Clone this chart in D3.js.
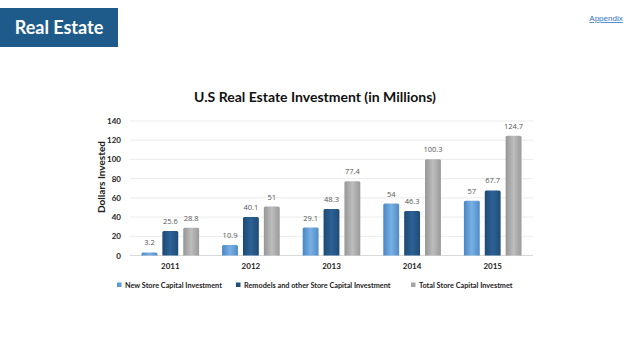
<!DOCTYPE html>
<html><head><meta charset="utf-8">
<script src="https://cdn.jsdelivr.net/npm/d3@7"></script>
<style>body{margin:0;background:#fff;}svg{display:block;}</style>
</head><body>
<svg id="c" width="638" height="359"></svg>
<script>
const years = ["2011","2012","2013","2014","2015"];
const seriesNames = ["New Store Capital Investment","Remodels and other Store Capital Investment","Total Store Capital Investmet"];
const newStore = [3.2,10.9,29.1,54,57];
const remodels = [25.6,40.1,48.3,46.3,67.7];
const total = [28.8,51,77.4,100.3,124.7];
const yTicks = [0,20,40,60,80,100,120,140];
const labels = [["3.2","10.9","29.1","54","57"],["25.6","40.1","48.3","46.3","67.7"],["28.8","51","77.4","100.3","124.7"]];

(function(){
const svg = d3.select("#c");
const font = "Lato, 'Open Sans', sans-serif";
const defs = svg.append("defs");
const grads = [["#4a86c6","#79b0e3","#4f8bca"],["#1d4a74","#2d6196","#1f4c77"],["#969696","#bdbdbd","#9a9a9a"]];
grads.forEach((g,i)=>{
  const lg = defs.append("linearGradient").attr("id","g"+i).attr("x1","0").attr("x2","1").attr("y1","0").attr("y2","0");
  lg.append("stop").attr("offset","0%").attr("stop-color",g[0]);
  lg.append("stop").attr("offset","50%").attr("stop-color",g[1]);
  lg.append("stop").attr("offset","100%").attr("stop-color",g[2]);
});
const solid = ["#5b9bd5","#1f4e79","#a5a5a5"];

// header
svg.append("rect").attr("x",0).attr("y",8).attr("width",118).attr("height",39).attr("fill","#1f5b8a");
svg.append("text").attr("x",59).attr("y",34).attr("text-anchor","middle").attr("fill","#fff")
  .attr("font-family",font).attr("font-weight","bold").attr("font-size",18).text("Real Estate");
svg.append("text").attr("x",606).attr("y",21).attr("text-anchor","middle").attr("fill","#2e75c9")
  .attr("font-family","'Liberation Sans', sans-serif").attr("font-size",8).attr("text-decoration","underline").text("Appendix");

// title
svg.append("text").attr("x",315).attr("y",102).attr("text-anchor","middle").attr("fill","#111")
  .attr("font-family",font).attr("font-weight","bold").attr("font-size",14).text("U.S Real Estate Investment (in Millions)");

const pl=130, pr=533, pt=121, pb=255.5;
const x = d3.scaleBand().domain(years).range([pl,pr]);
const y = d3.scaleLinear().domain([0,140]).range([pb,pt]);

// gridlines
svg.append("g").selectAll("line").data(yTicks).join("line")
  .attr("x1",pl).attr("x2",pr).attr("y1",d=>y(d)).attr("y2",d=>y(d))
  .attr("stroke",d=>d===0?"#cfcfcf":"#e6e6e6").attr("stroke-width",0.8);

const yAxis = svg.append("g").attr("transform",`translate(${pl},0)`)
  .call(d3.axisLeft(y).tickValues(yTicks).tickSize(0).tickPadding(9));
yAxis.select(".domain").remove();
yAxis.selectAll("text").attr("font-family",font).attr("font-weight","bold").attr("font-size",8).attr("fill","#222");

const xAxis = svg.append("g").attr("transform",`translate(0,${pb})`)
  .call(d3.axisBottom(x).tickSize(0).tickPadding(8));
xAxis.select(".domain").remove();
xAxis.selectAll("text").attr("font-family",font).attr("font-weight","bold").attr("font-size",8).attr("fill","#222");

svg.append("text").attr("transform",`translate(105,177) rotate(-90)`).attr("text-anchor","middle")
  .attr("font-family",font).attr("font-weight","bold").attr("font-size",10).attr("fill","#222").text("Dollars Invested");

const xs = d3.scaleBand().domain([0,1,2]).range([0,x.bandwidth()]).paddingInner(0.24).paddingOuter(0.55);
const data = [newStore,remodels,total];
data.forEach((vals,si)=>{
  const g = svg.append("g");
  g.selectAll("path").data(vals).join("path")
    .attr("d",(d,i)=>{
      const x0 = x(years[i])+xs(si), w = xs.bandwidth(), y0 = y(d), h = pb - y0, r = Math.min(1.5,h/2);
      return `M${x0},${pb}V${y0+r}Q${x0},${y0} ${x0+r},${y0}H${x0+w-r}Q${x0+w},${y0} ${x0+w},${y0+r}V${pb}Z`;
    })
    .attr("fill",`url(#g${si})`);
  g.selectAll("text").data(vals).join("text")
    .attr("x",(d,i)=>x(years[i])+xs(si)+xs.bandwidth()/2)
    .attr("y",d=>y(d)-7)
    .attr("text-anchor","middle").attr("font-family","'Open Sans', sans-serif").attr("font-size",7.5).attr("fill","#555")
    .text((d,i)=>labels[si][i]);
});

// legend
const legX = [117,236,411];
const lg = svg.append("g");
seriesNames.forEach((n,i)=>{
  lg.append("rect").attr("x",legX[i]).attr("y",282.5).attr("width",4.5).attr("height",4.5).attr("fill",solid[i]);
  lg.append("text").attr("x",legX[i]+8).attr("y",287.5).attr("font-family",font).attr("font-weight","bold")
    .attr("font-size",7.3).attr("fill","#222").text(n);
});
})();
</script>
</body></html>
